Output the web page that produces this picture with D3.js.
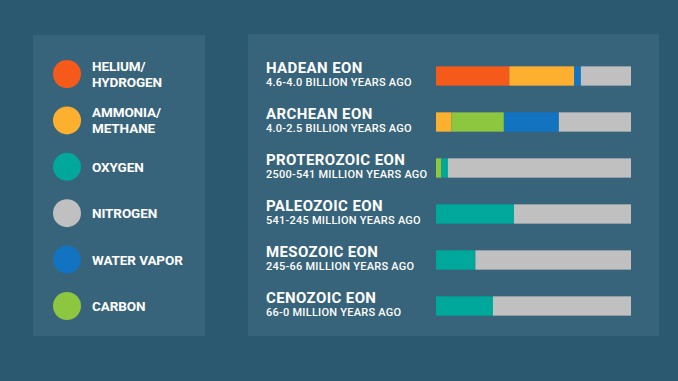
<!DOCTYPE html>
<html><head><meta charset="utf-8">
<script src="https://cdn.jsdelivr.net/npm/d3@7"></script>
<style>html,body{margin:0;padding:0;background:#2b5a70;}svg{display:block;}</style>
</head><body>
<script>
const gases = ["HELIUM/\nHYDROGEN","AMMONIA/\nMETHANE","OXYGEN","NITROGEN","WATER VAPOR","CARBON"];
const gasKeys = ["helium","ammonia","oxygen","nitrogen","water","carbon"];
const gasColors = ["#f55a1a","#fdb030","#00a89b","#c0c0c0","#1274c0","#8dc63f"];
const eons = ["HADEAN EON","ARCHEAN EON","PROTEROZOIC EON","PALEOZOIC EON","MESOZOIC EON","CENOZOIC EON"];
const eonSpans = ["4.6-4.0 BILLION YEARS AGO","4.0-2.5 BILLION YEARS AGO","2500-541 MILLION YEARS AGO","541-245 MILLION YEARS AGO","245-66 MILLION YEARS AGO","66-0 MILLION YEARS AGO"];
// percentage segments, in drawing order per eon
const segGas = [
  ["helium","ammonia","water","nitrogen"],
  ["ammonia","carbon","water","nitrogen"],
  ["carbon","oxygen","nitrogen"],
  ["oxygen","nitrogen"],
  ["oxygen","nitrogen"],
  ["oxygen","nitrogen"]
];
const segVal = [
  [37.6,33.3,3.4,25.7],
  [7.8,27.0,28.2,37.0],
  [2.7,3.4,93.9],
  [40,60],
  [20.2,79.8],
  [29.2,70.8]
];

const W=678,H=381;
const svg=d3.select("body").append("svg").attr("width",W).attr("height",H);
svg.append("rect").attr("width",W).attr("height",H).attr("fill","#2b5a70");
svg.append("rect").attr("x",33).attr("y",35).attr("width",172).attr("height",301).attr("fill","#37647a");
svg.append("rect").attr("x",248).attr("y",34).attr("width",411).attr("height",302).attr("fill","#37647a");

const color=d3.scaleOrdinal().domain(gasKeys).range(gasColors);
const font="Roboto, 'DejaVu Sans', sans-serif";

// legend
const ly=d3.scalePoint().domain(gasKeys).range([74,306]);
const lg=svg.append("g");
gasKeys.forEach((k,i)=>{
  const cy=ly(k);
  lg.append("circle").attr("cx",67).attr("cy",cy).attr("r",14).attr("fill",color(k));
  const lines=gases[i].split("\n");
  const t=lg.append("text").attr("x",92).attr("font-family",font).attr("font-weight",700)
    .attr("font-size",13.5).attr("fill","#fff").attr("letter-spacing",-0.1);
  lines.forEach((l,j)=>{
    t.append("tspan").attr("x",92).attr("y",cy+5+(j-(lines.length-1)/2)*16).text(l);
  });
});

// bars
const y=d3.scaleBand().domain(eons).range([53,329]).paddingInner(0.58).paddingOuter(0.29);
const x=d3.scaleLinear().domain([0,100]).range([436,631]);
const g=svg.append("g");
eons.forEach((e,i)=>{
  const yc=y(e)+y.bandwidth()/2;
  g.append("text").attr("x",266).attr("y",yc-3.5).attr("font-family",font).attr("font-weight",700)
    .attr("font-size",15).attr("letter-spacing",0.4).attr("fill","#fff").text(e);
  g.append("text").attr("x",266).attr("y",yc+10).attr("font-family",font).attr("font-weight",500)
    .attr("font-size",11).attr("letter-spacing",0.25).attr("fill","#fff").text(eonSpans[i]);
  let acc=0;
  segVal[i].forEach((v,j)=>{
    g.append("rect").attr("x",x(acc)).attr("y",y(e)).attr("width",x(acc+v)-x(acc))
      .attr("height",y.bandwidth()).attr("fill",color(segGas[i][j]));
    acc+=v;
  });
});
</script>
</body></html>
